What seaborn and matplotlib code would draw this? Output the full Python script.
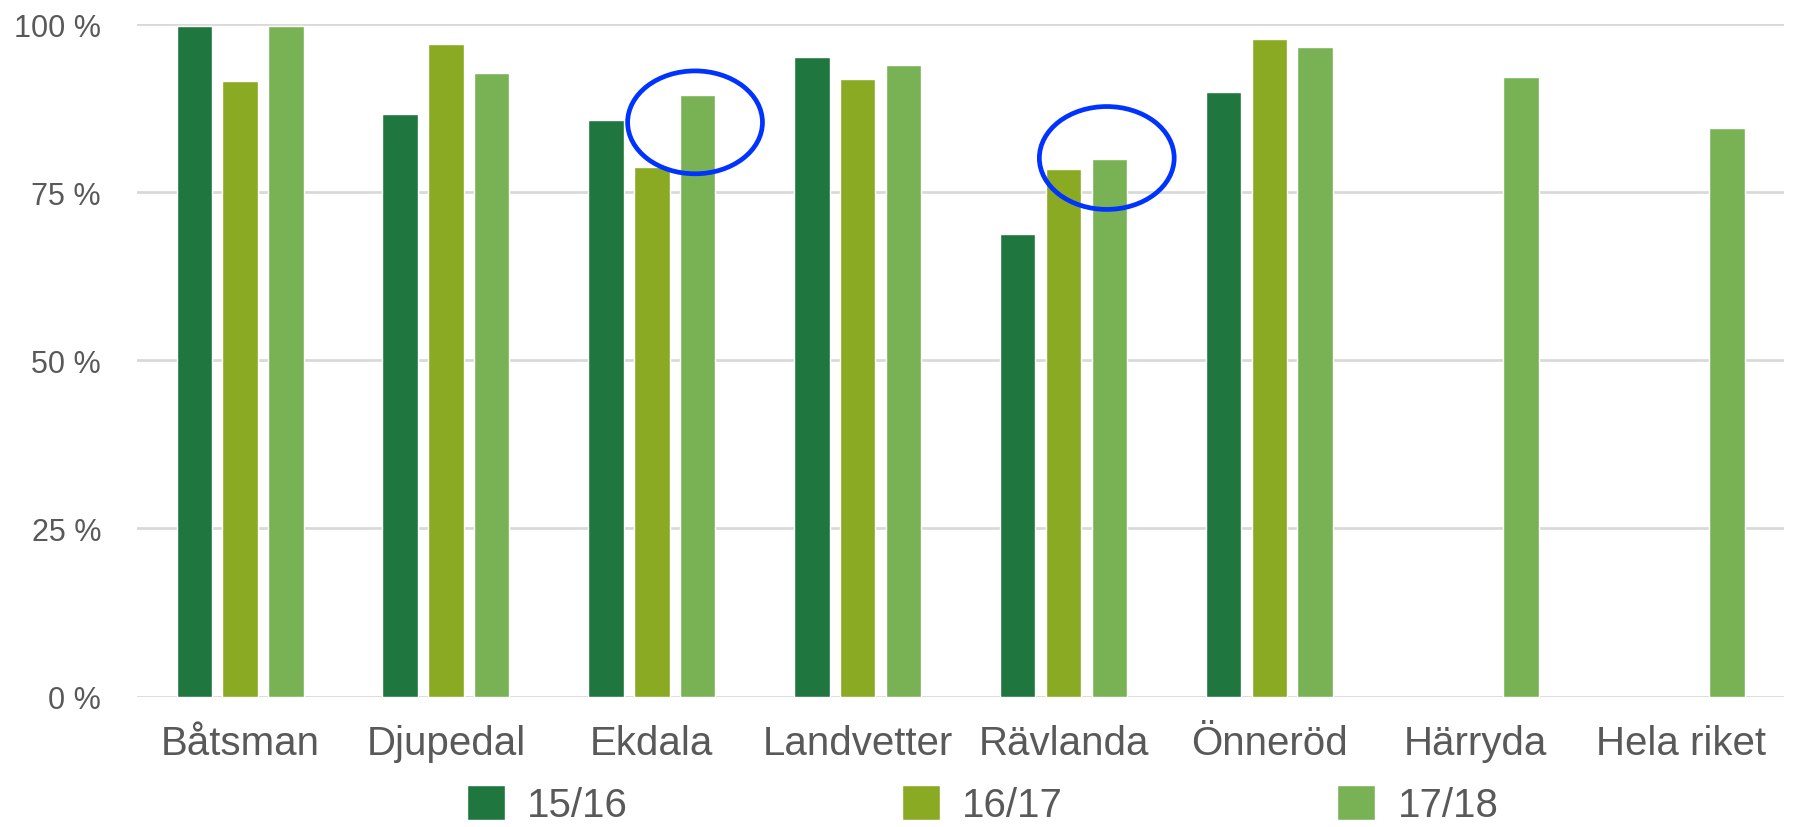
import pandas as pd
import numpy as np
import matplotlib
matplotlib.use("Agg")
import matplotlib.pyplot as plt
from matplotlib.patches import Ellipse
from matplotlib.ticker import FuncFormatter
import seaborn as sns

# ---- data ----
skolor = ['Båtsman', 'Djupedal', 'Ekdala', 'Landvetter', 'Rävlanda', 'Önneröd', 'Härryda', 'Hela riket']
ar = ['15/16', '16/17', '17/18']
v_1516 = [99.8, 86.7, 85.8, 95.1, 68.8, 89.9, np.nan, np.nan]
v_1617 = [91.5, 97.0, 78.7, 91.8, 78.4, 97.8, np.nan, np.nan]
v_1718 = [99.8, 92.7, 89.4, 93.9, 79.9, 96.6, 92.2, 84.6]
farger = ['#1F773F', '#8BAA23', '#79B255']

rows = []
for a, vals in zip(ar, [v_1516, v_1617, v_1718]):
    for s, v in zip(skolor, vals):
        rows.append({'skola': s, 'år': a, 'andel': v})
df = pd.DataFrame(rows)

sns.set_style("white")
plt.rcParams['font.family'] = ['Liberation Sans', 'DejaVu Sans']
textfarg = '#595959'

fig = plt.figure(figsize=(17.93, 8.28), dpi=100)
ax = fig.add_axes([0.0765, 0.1575, 0.9185, 0.8121])

sns.barplot(data=df, x='skola', y='andel', hue='år', hue_order=ar, order=skolor,
            palette=farger, width=0.667, gap=0.225, errorbar=None,
            saturation=1, ax=ax, zorder=3)

ax.set_ylim(0, 100)
ax.set_xlim(-0.5, len(skolor) - 0.5)
ax.set_yticks([0, 25, 50, 75, 100])
ax.yaxis.set_major_formatter(FuncFormatter(lambda v, p: f"{int(v)} %"))
ax.grid(axis='y', color='#D9D9D9', linewidth=2, zorder=0)
ax.set_axisbelow(True)
for side in ['top', 'right', 'left', 'bottom']:
    ax.spines[side].set_visible(False)
ax.tick_params(axis='y', length=0, pad=26, labelsize=22, labelcolor=textfarg)
ax.tick_params(axis='x', length=0, pad=20, labelsize=29, labelcolor=textfarg)
ax.set_xlabel('')
ax.set_ylabel('')

# blue rings drawn on the original
for cx, cy in [(2.21, 85.4), (4.21, 80.1)]:
    ax.add_patch(Ellipse((cx, cy), 0.655, 15.3, fill=False, edgecolor='#0033FF',
                         linewidth=3.4, zorder=5, clip_on=False))

ax.get_legend().remove()
handles, labels = ax.get_legend_handles_labels()
fig.legend(handles, labels, loc='center', bbox_to_anchor=(0.548, 0.027), ncol=3,
           frameon=False, fontsize=29, labelcolor=textfarg, handlelength=0.95,
           handleheight=0.95, handletextpad=0.55, columnspacing=6.8, borderpad=0)

fig.savefig('out.png', dpi=100)
